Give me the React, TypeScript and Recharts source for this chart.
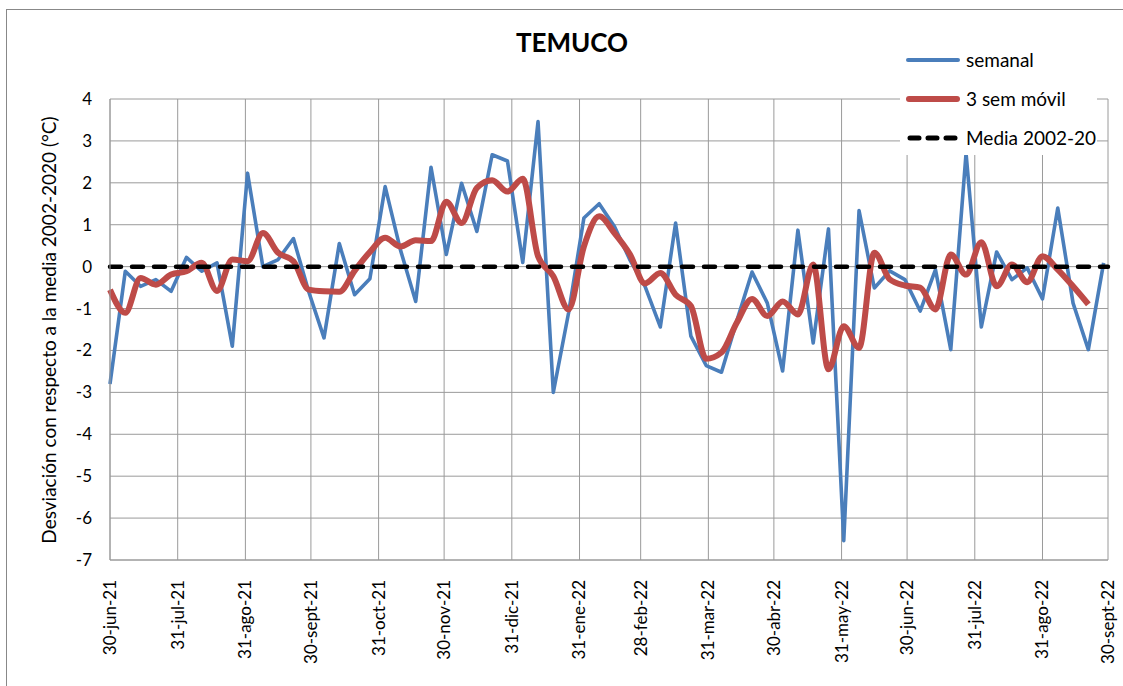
import { CartesianGrid, Line, LineChart, ReferenceLine, XAxis, YAxis } from "recharts"

const startDate = "2021-06-30"

// weekly deviation (°C), one value per week starting 30-jun-21
const semanal = [
  -2.8, -0.11, -0.47, -0.31, -0.59, 0.22, -0.11, 0.09, -1.9, 2.23, 0.0, 0.17, 0.67, -0.6, -1.7, 0.55,
  -0.67, -0.29, 1.91, 0.4, -0.83, 2.37, 0.29, 1.99, 0.84, 2.67, 2.52, 0.1, 3.46, -3.0, -1.1, 1.16,
  1.5, 0.96, 0.17, -0.47, -1.44, 1.04, -1.66, -2.36, -2.52, -1.3, -0.13, -0.87, -2.49, 0.87, -1.82, 0.9,
  -6.54, 1.34, -0.51, -0.1, -0.31, -1.06, -0.07, -1.98, 2.7, -1.44, 0.35, -0.31, -0.03, -0.77, 1.4, -0.87,
  -1.98, 0.09,
]

// 3 week moving average
const movil = [
  -0.55, -1.1, -0.27, -0.43, -0.19, -0.11, 0.09, -0.58, 0.17, 0.13, 0.8, 0.33, 0.13, -0.55, -0.59, -0.6,
  -0.1, 0.35, 0.69, 0.48, 0.63, 0.61, 1.55, 1.04, 1.88, 2.06, 1.79, 2.1, 0.25, -0.23, -1.02, 0.48,
  1.2, 0.8, 0.3, -0.4, -0.15, -0.67, -0.94, -2.2, -2.05, -1.34, -0.77, -1.18, -0.83, -1.14, 0.05, -2.45,
  -1.42, -1.94, 0.33, -0.3, -0.45, -0.5, -1.02, 0.29, -0.19, 0.58, -0.47, 0.05, -0.37, 0.25, -0.07, -0.47,
  -0.9,
]

const tickDates = [
  "2021-06-30", "2021-07-31", "2021-08-31", "2021-09-30", "2021-10-31", "2021-11-30", "2021-12-31", "2022-01-31",
  "2022-02-28", "2022-03-31", "2022-04-30", "2022-05-31", "2022-06-30", "2022-07-31", "2022-08-31", "2022-09-30",
]
const tickLabels = [
  "30-jun-21", "31-jul-21", "31-ago-21", "30-sept-21", "31-oct-21", "30-nov-21", "31-dic-21", "31-ene-22",
  "28-feb-22", "31-mar-22", "30-abr-22", "31-may-22", "30-jun-22", "31-jul-22", "31-ago-22", "30-sept-22",
]
const yTicks = [-7, -6, -5, -4, -3, -2, -1, 0, 1, 2, 3, 4]

const dayOf = (iso: string) => Math.round((Date.parse(iso) - Date.parse(startDate)) / 86400000)
const tickDays = tickDates.map(dayOf)

const data = semanal.map((v, i) => ({
  day: i * 7,
  semanal: v,
  movil: i < movil.length ? movil[i] : null,
}))

const FONT = "Lato, 'Liberation Sans', sans-serif"

function DateTick(props: any) {
  const { x, y, payload } = props
  const idx = tickDays.indexOf(payload.value)
  return (
    <g transform={`translate(${x},${y})`}>
      <text transform="rotate(-90)" x={0} y={0} dy="0.35em" textAnchor="end" fontSize={17} fill="#000" fontFamily={FONT}>
        {tickLabels[idx]}
      </text>
    </g>
  )
}

function LegendRow({ kind, label }: { kind: string; label: string }) {
  return (
    <div style={{ display: "flex", alignItems: "center", height: 39 }}>
      <svg width={56} height={12} style={{ marginRight: 4 }}>
        {kind === "semanal" && <line x1={2} y1={6} x2={52} y2={6} stroke="#4a7ebb" strokeWidth={4} strokeLinecap="round" />}
        {kind === "movil" && <line x1={3} y1={6} x2={51} y2={6} stroke="#be4b48" strokeWidth={6} strokeLinecap="round" />}
        {kind === "media" && (
          <line x1={4} y1={6} x2={52} y2={6} stroke="#000" strokeWidth={5} strokeLinecap="round" strokeDasharray="9 9" />
        )}
      </svg>
      <span style={{ fontSize: 19, fontFamily: FONT }}>{label}</span>
    </div>
  )
}

export default function App() {
  return (
    <div style={{ position: "absolute", left: 0, top: 0, width: 1123, height: 686, overflow: "hidden", background: "#fff" }}>
      <div
        style={{
          position: "absolute",
          left: 6,
          top: 9,
          width: 1117,
          height: 677,
          borderTop: "1px solid #888",
          borderLeft: "1px solid #888",
        }}
      />
      <LineChart width={1123} height={686} data={data} margin={{ top: 99, right: 15, left: 50, bottom: 26 }}>
        <CartesianGrid stroke="#9a9a9a" strokeWidth={1} />
        <XAxis
          dataKey="day"
          type="number"
          domain={[0, 457]}
          ticks={tickDays}
          interval={0}
          height={100}
          axisLine={{ stroke: "#9a9a9a" }}
          tickLine={false}
          tickMargin={14}
          tick={<DateTick />}
        />
        <YAxis
          type="number"
          domain={[-7, 4]}
          ticks={yTicks}
          interval={0}
          width={60}
          axisLine={{ stroke: "#9a9a9a" }}
          tickLine={false}
          tickMargin={12}
          tick={{ fontSize: 17, fill: "#000", fontFamily: FONT }}
        />
        <Line
          dataKey="semanal"
          type="linear"
          stroke="#4a7ebb"
          strokeWidth={3.6}
          strokeLinejoin="round"
          dot={false}
          activeDot={false}
          isAnimationActive={false}
        />
        <Line
          dataKey="movil"
          type="monotone"
          stroke="#be4b48"
          strokeWidth={6}
          dot={false}
          activeDot={false}
          isAnimationActive={false}
        />
        <ReferenceLine y={0} stroke="#000" strokeWidth={4.5} strokeDasharray="11 11" strokeLinecap="round" />
      </LineChart>
      <div
        style={{
          position: "absolute",
          left: 372,
          top: 26,
          width: 400,
          textAlign: "center",
          fontSize: 26,
          fontWeight: "bold",
          fontFamily: FONT,
        }}
      >
        TEMUCO
      </div>
      <div
        style={{
          position: "absolute",
          left: 48,
          top: 330,
          transform: "translate(-50%, -50%) rotate(-90deg)",
          whiteSpace: "nowrap",
          fontSize: 19,
          fontFamily: FONT,
        }}
      >
        Desviación con respecto a la media 2002-2020 (°C)
      </div>
      <div
        style={{
          position: "absolute",
          left: 900,
          top: 40,
          width: 197,
          height: 115,
          background: "#fff",
          paddingLeft: 6,
          boxSizing: "border-box",
        }}
      >
        <LegendRow kind="semanal" label="semanal" />
        <LegendRow kind="movil" label="3 sem móvil" />
        <LegendRow kind="media" label="Media 2002-20" />
      </div>
    </div>
  )
}
